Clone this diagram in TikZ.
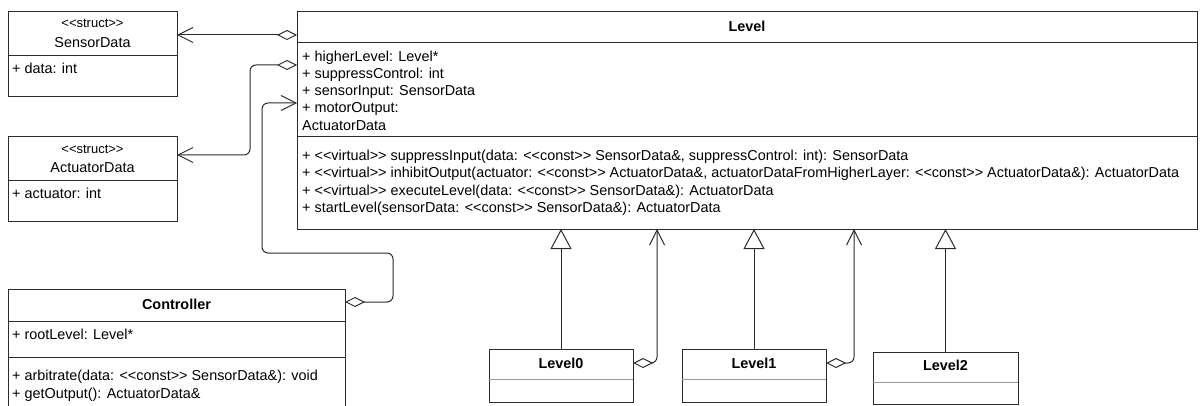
\documentclass[tikz,border=0pt]{standalone}
\usepackage{fontspec}
\setmainfont[Ligatures=TeXOff]{Liberation Sans}
\usetikzlibrary{arrows.meta,calc}
\definecolor{linec}{HTML}{2B2B2B}
\definecolor{sepc}{HTML}{999999}
\begin{document}
\begin{tikzpicture}[x=1pt,y=-1pt,
  umlbox/.style={draw=linec, line width=1pt, fill=white, anchor=north west,
                 inner sep=0pt, outer sep=0pt},
  sep/.style={draw=linec, line width=1pt},
  lightsep/.style={draw=sepc, line width=1pt},
  txt/.style={anchor=base west, inner sep=0pt, font=\fontsize{14.4}{17}\selectfont},
  ctxt/.style={anchor=base, inner sep=0pt, font=\fontsize{14.4}{17}\selectfont},
  btxt/.style={anchor=base, inner sep=0pt, font=\fontsize{14.4}{17}\selectfont\bfseries},
  stereo/.style={anchor=base, inner sep=0pt, font=\fontsize{13}{15}\selectfont},
  conn/.style={draw=linec, line width=1pt, rounded corners=6pt},
  assoc/.style={conn, {Diamond[open,fill=white,length=20pt,width=10pt]}-{Straight Barb[length=15pt,width=15pt]}},
  inherit/.style={conn, -{Triangle[open,fill=white,length=20pt,width=21pt]}},
]
\useasboundingbox (0,0) rectangle (1201,406);

% ---------- SensorData ----------
\node[umlbox, minimum width=169pt, minimum height=85pt] (sensor) at (8,12) {};
\draw[sep] ($(sensor.north west)+(0,44)$) -- ($(sensor.north east)+(0,44)$);
\node[stereo] (sensorSt) at (92.5,28) {<<struct>>};
\node[ctxt] (sensorTi) at (92.5,47.5) {SensorData};
\node[txt] (sensorA1) at (12,74) {+ data: int};

% ---------- ActuatorData ----------
\node[umlbox, minimum width=169pt, minimum height=84pt] (actuator) at (8,137) {};
\draw[sep] ($(actuator.north west)+(0,44)$) -- ($(actuator.north east)+(0,44)$);
\node[stereo] (actSt) at (92.5,154) {<<struct>>};
\node[ctxt] (actTi) at (92.5,172.5) {ActuatorData};
\node[txt] (actA1) at (12,199) {+ actuator: int};

% ---------- Controller ----------
\node[umlbox, minimum width=337pt, minimum height=130pt] (controller) at (8,289) {};
\draw[sep] ($(controller.north west)+(0,32)$) -- ($(controller.north east)+(0,32)$);
\draw[sep] ($(controller.north west)+(0,68)$) -- ($(controller.north east)+(0,68)$);
\node[btxt] (ctrlTi) at (176.5,309) {Controller};
\node[txt] (ctrlA1) at (12,339) {+ rootLevel: Level*};
\node[txt] (ctrlM1) at (12,380) {+ arbitrate(data: <<const>> SensorData\&): void};
\node[txt] (ctrlM2) at (12,398) {+ getOutput(): ActuatorData\&};

% ---------- Level ----------
\node[umlbox, minimum width=900pt, minimum height=217pt] (level) at (297,12) {};
\draw[sep] ($(level.north west)+(0,31)$) -- ($(level.north east)+(0,31)$);
\draw[sep] ($(level.north west)+(0,125)$) -- ($(level.north east)+(0,125)$);
\node[btxt] (levelTi) at (747,32) {Level};
\node[txt] (levelA1) at (302,62) {+ higherLevel: Level*};
\node[txt] (levelA2) at (302,79) {+ suppressControl: int};
\node[txt] (levelA3) at (302,96) {+ sensorInput: SensorData};
\node[txt] (levelA4) at (302,113) {+ motorOutput:};
\node[txt] (levelA5) at (302,131) {ActuatorData};
\node[txt] (levelM1) at (302,161) {+ <<virtual>> suppressInput(data: <<const>> SensorData\&, suppressControl: int): SensorData};
\node[txt] (levelM2) at (302,178) {+ <<virtual>> inhibitOutput(actuator: <<const>> ActuatorData\&, actuatorDataFromHigherLayer: <<const>> ActuatorData\&): ActuatorData};
\node[txt] (levelM3) at (302,195) {+ <<virtual>> executeLevel(data: <<const>> SensorData\&): ActuatorData};
\node[txt] (levelM4) at (302,212) {+ startLevel(sensorData: <<const>> SensorData\&): ActuatorData};

% ---------- Level0 / Level1 / Level2 ----------
\node[umlbox, minimum width=144pt, minimum height=53pt] (level0) at (489,349) {};
\draw[lightsep] ($(level0.north west)+(0,30)$) -- ($(level0.north east)+(0,30)$);
\node[btxt] (level0Ti) at (561,368) {Level0};

\node[umlbox, minimum width=144pt, minimum height=53pt] (level1) at (682,349) {};
\draw[lightsep] ($(level1.north west)+(0,30)$) -- ($(level1.north east)+(0,30)$);
\node[btxt] (level1Ti) at (754,368) {Level1};

\node[umlbox, minimum width=145pt, minimum height=52pt] (level2) at (873,352) {};
\draw[lightsep] ($(level2.north west)+(0,30)$) -- ($(level2.north east)+(0,30)$);
\node[btxt] (level2Ti) at (945.5,370.5) {Level2};

% ---------- attachment points ----------
\coordinate (sensAgg) at ($(level.north west)+(0,23)$);
\coordinate (actAgg) at ($(level.north west)+(0,53)$);
\coordinate (actBend) at ($(level.north west)+(-47,0)$);
\coordinate (actIn) at ($(actuator.north east)+(0,18)$);
\coordinate (ctrlAgg) at ($(controller.north east)+(0,13)$);
\coordinate (ctrlBend) at ($(controller.north east)+(48,0)$);
\coordinate (ctrlMid) at ($(level.south west)+(-35,24)$);
\coordinate (ctrlIn) at ($(level.north west)+(0,91)$);
\coordinate (l0Agg) at ($(level0.north east)+(0,14)$);
\coordinate (l0Up) at ($(level0.north east)+(24,0)$);
\coordinate (l1Agg) at ($(level1.north east)+(0,14)$);
\coordinate (l1Up) at ($(level1.north east)+(28,0)$);

% ---------- associations ----------
\draw[assoc] (sensAgg) -- (sensAgg -| sensor.east);
\draw[assoc] (actAgg) -- (actAgg -| actBend) -- (actBend |- actIn) -- (actIn);
\draw[assoc] (ctrlAgg) -| (ctrlBend |- ctrlMid) -- (ctrlMid) |- (ctrlIn);
\draw[assoc] (l0Agg) -| (l0Up |- level.south);
\draw[assoc] (l1Agg) -| (l1Up |- level.south);

% ---------- generalisations ----------
\draw[inherit] (level0.north) -- (level0.north |- level.south);
\draw[inherit] (level1.north) -- (level1.north |- level.south);
\draw[inherit] (level2.north) -- (level2.north |- level.south);
\end{tikzpicture}
\end{document}
